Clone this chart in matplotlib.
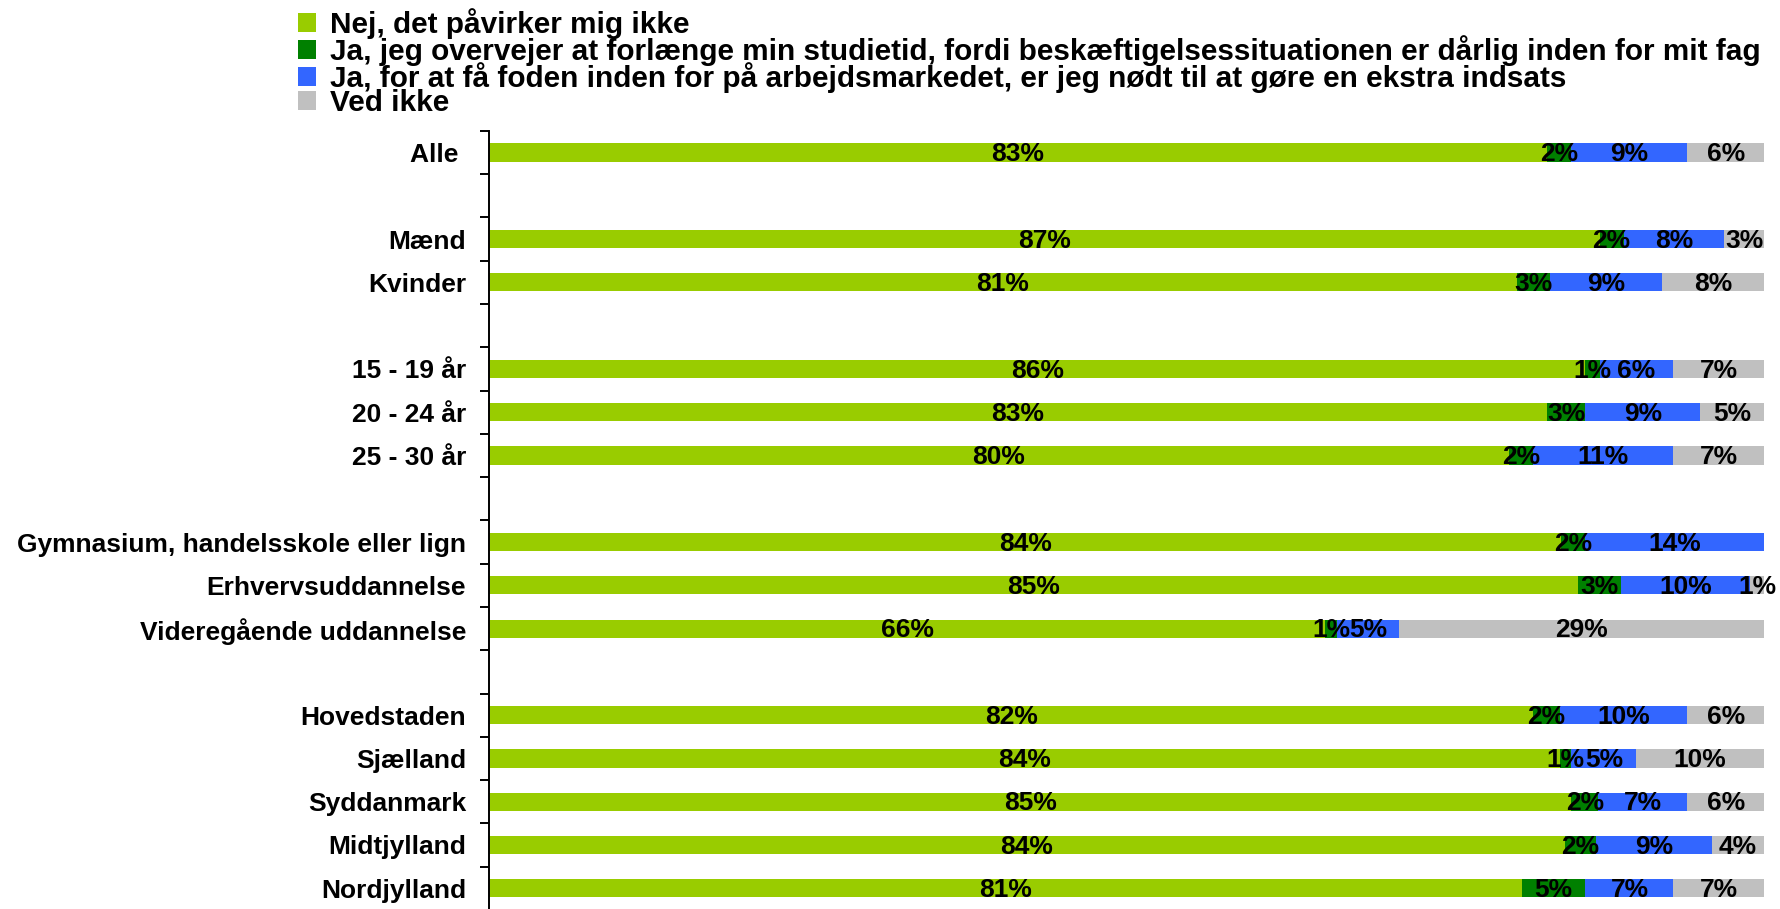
import numpy as np
import matplotlib
matplotlib.use("Agg")
import matplotlib.pyplot as plt

plt.rcParams["font.family"] = ["Liberation Sans", "DejaVu Sans"]
plt.rcParams["font.weight"] = "bold"

categories = ["Alle ", "Mænd", "Kvinder", "15 - 19 år", "20 - 24 år", "25 - 30 år",
              "Gymnasium, handelsskole eller lign", "Erhvervsuddannelse",
              "Videregående uddannelse", "Hovedstaden", "Sjælland", "Syddanmark",
              "Midtjylland", "Nordjylland"]
group_sizes = [1, 2, 3, 3, 5]

series_names = ["Nej, det påvirker mig ikke",
                "Ja, jeg overvejer at forlænge min studietid, fordi beskæftigelsessituationen er dårlig inden for mit fag",
                "Ja, for at få foden inden for på arbejdsmarkedet, er jeg nødt til at gøre en ekstra indsats",
                "Ved ikke"]
nej = [83.0, 87.1, 80.6, 86.0, 83.0, 80.0, 84.1, 85.4, 65.6, 81.9, 84.0, 84.9, 84.4, 81.0]
ja_forlaenge = [1.9, 1.9, 2.6, 1.1, 3.0, 1.9, 1.9, 3.4, 0.9, 2.1, 0.9, 2.1, 2.4, 5.0]
ja_indsats = [9.1, 7.9, 8.8, 5.8, 9.0, 11.0, 14.0, 10.1, 4.9, 10.0, 5.1, 7.0, 9.1, 6.9]
ved_ikke = [6.0, 3.1, 8.0, 7.1, 5.0, 7.1, 0.0, 1.1, 28.6, 6.0, 10.0, 6.0, 4.1, 7.1]
colors = ["#99CC00", "#008000", "#3366FF", "#C0C0C0"]

# row positions with one empty row between groups
pos = []
row = 0
for g in group_sizes:
    for i in range(g):
        pos.append(row)
        row += 1
    row += 1
pos = np.array(pos)
n_rows = row - 1

W, H = 1781, 909
fig = plt.figure(figsize=(W / 100, H / 100), dpi=100)
ax = fig.add_axes([489 / W, -0.001, (1764 - 489) / W, 779 / H])

left = np.zeros(len(categories))
bars = []
for vals, col, name in zip([nej, ja_forlaenge, ja_indsats, ved_ikke], colors, series_names):
    vals = np.array(vals)
    b = ax.barh(pos, vals, left=left, height=0.42, color=col, label=name)
    bars.append(b)
    for y, l, v in zip(pos, left, vals):
        if round(v) > 0:
            ax.text(l + v / 2, y + 0.2, f"{round(v)}%", ha="center", va="baseline",
                    fontsize=19, fontweight="bold")
    left = left + vals

ax.set_xlim(0, 100)
ax.set_ylim(n_rows - 0.5, -0.5)
ax.set_xticks([])
ax.set_yticks(pos)
ax.set_yticklabels(categories, fontsize=19, fontweight="bold")
ax.tick_params(axis="y", which="major", length=0, pad=16.5)
ax.set_yticks(np.arange(n_rows + 1) - 0.5, minor=True)
ax.tick_params(axis="y", which="minor", length=6.5, width=1.4)
for s in ["top", "right", "bottom"]:
    ax.spines[s].set_visible(False)
ax.spines["left"].set_linewidth(1.4)

fig.legend(handles=bars, labels=series_names, loc="upper left",
           bbox_to_anchor=(298 / W, 0.991), frameon=False,
           prop={"weight": "bold", "size": 21.4},
           borderpad=0, borderaxespad=0, labelspacing=-0.13,
           handlelength=0.62, handleheight=0.62, handletextpad=0.45)

fig.savefig("out.png", dpi=100)
